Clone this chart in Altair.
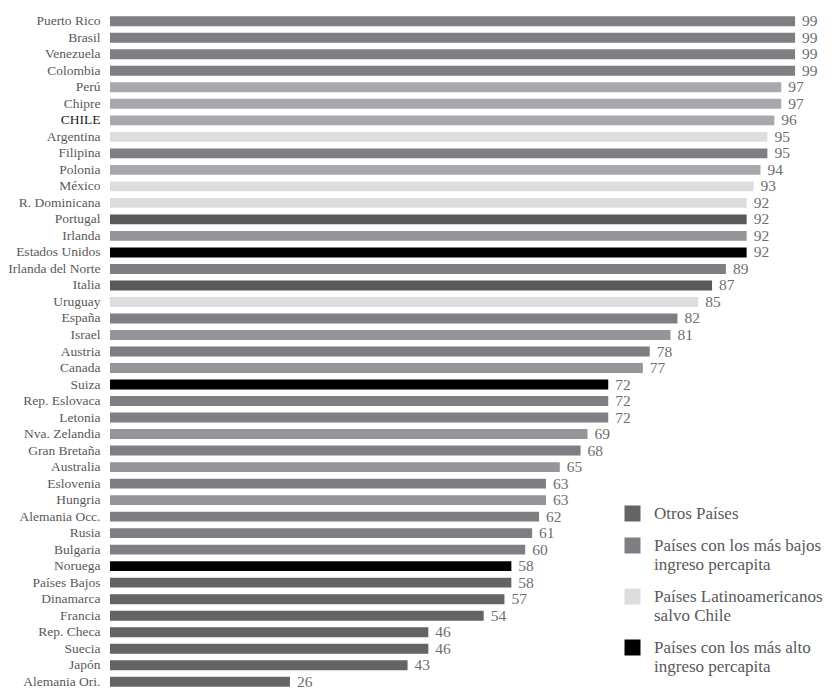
import altair as alt
import pandas as pd

paises = ["Puerto Rico", "Brasil", "Venezuela", "Colombia", "Perú", "Chipre", "CHILE",
          "Argentina", "Filipina", "Polonia", "México", "R. Dominicana", "Portugal",
          "Irlanda", "Estados Unidos", "Irlanda del Norte", "Italia", "Uruguay", "España",
          "Israel", "Austria", "Canada", "Suiza", "Rep. Eslovaca", "Letonia",
          "Nva. Zelandia", "Gran Bretaña", "Australia", "Eslovenia", "Hungria",
          "Alemania Occ.", "Rusia", "Bulgaria", "Noruega", "Países Bajos", "Dinamarca",
          "Francia", "Rep. Checa", "Suecia", "Japón", "Alemania Ori."]
valores = [99, 99, 99, 99, 97, 97, 96, 95, 95, 94, 93, 92, 92, 92, 92, 89, 87, 85, 82,
           81, 78, 77, 72, 72, 72, 69, 68, 65, 63, 63, 62, 61, 60, 58, 58, 57, 54, 46,
           46, 43, 26]
# group code per bar
grupos_cod = ["b", "b", "b", "b", "b3", "b3", "b3", "l", "b", "b3", "l", "l", "o2",
              "b2", "a", "b", "o2", "l", "b", "b2", "b", "b2", "a", "b", "b",
              "b2", "b", "b2", "b", "b2", "b", "b", "b", "a", "o", "o",
              "o", "o", "o", "o", "o"]

nombres = {
    "o": "Otros Países",
    "b": "Países con los más bajos|ingreso percapita",
    "l": "Países Latinoamericanos|salvo Chile",
    "a": "Países con los más alto|ingreso percapita",
    "o2": "otros2",
    "b2": "bajos2",
    "b3": "bajos3",
}
dominio = [nombres[k] for k in ["o", "b", "l", "a", "o2", "b2", "b3"]]
colores = ["#636466", "#7e7f82", "#dcdddf", "#000000", "#58595b", "#939598", "#a7a9ac"]

df = pd.DataFrame({
    "pais": paises,
    "valor": valores,
    "grupo": [nombres[g] for g in grupos_cod],
})

FONT = "Liberation Serif"

y_enc = alt.Y(
    "pais:N", sort=paises, title=None,
    scale=alt.Scale(paddingInner=0.4, paddingOuter=0.2),
    axis=alt.Axis(domain=False, ticks=False, grid=False, labelPadding=10,
                  labelFont=FONT, labelFontSize=13.5, labelLimit=200,
                  labelFontWeight="normal",
                  labelColor=alt.ExprRef(
                      "datum.value == 'CHILE' ? '#1a1a1a' : '#58595b'")),
)
x_enc = alt.X("valor:Q", scale=alt.Scale(domain=[0, 100]), axis=None, title=None)

bars = alt.Chart(df).mark_bar().encode(
    y=y_enc,
    x=x_enc,
    color=alt.Color(
        "grupo:N",
        scale=alt.Scale(domain=dominio, range=colores),
        legend=alt.Legend(
            title=None, orient="none", legendX=514, legendY=492,
            values=dominio[:4], symbolType="square", symbolSize=256,
            symbolStrokeWidth=0, symbolOpacity=1,
            labelFont=FONT, labelFontSize=17, labelColor="#58595b",
            labelExpr="split(datum.label, '|')", labelLimit=300,
            rowPadding=14, labelOffset=13,
        ),
    ),
)

labels = alt.Chart(df).mark_text(
    align="left", baseline="middle", dx=7, dy=0, font=FONT, fontSize=15.5,
    color="#6d6e71"
).encode(
    y=alt.Y("pais:N", sort=paises),
    x=alt.X("valor:Q", axis=None),
    text=alt.Text("valor:Q"),
)

chart = alt.layer(bars, labels).properties(
    width=692, height=677,
    background="white",
    autosize=alt.AutoSizeParams(type="none"),
    padding={"left": 110, "top": 13, "right": 36, "bottom": 1},
).configure_view(strokeWidth=0, stroke=None)

chart.save("out.html", embed_options={"renderer": "svg", "actions": False})
